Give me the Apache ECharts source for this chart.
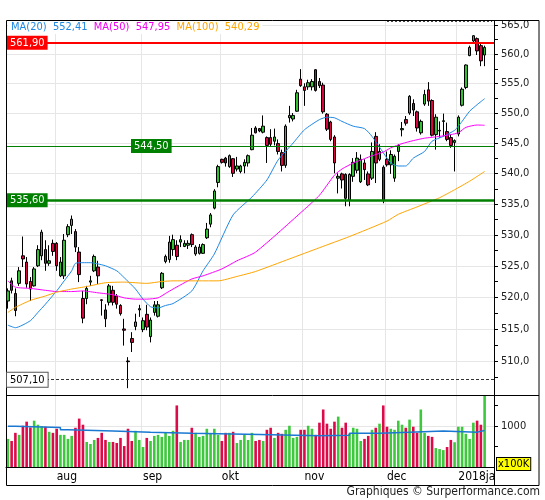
<!DOCTYPE html>
<html>
<head>
<meta charset="utf-8">
<title>Koersgrafiek</title>
<script src="https://cdn.jsdelivr.net/npm/echarts@6/dist/echarts.min.js"></script>
<style>
  html, body { margin: 0; padding: 0; background: #fff; }
  #chart { width: 545px; height: 500px; }
</style>
</head>
<body>
<div id="chart"></div>
<script>
// 每日开盘 / 收盘 / 最低 / 最高
const opens = [519.4,522.6,520.6,522.2,526.6,525.6,522.5,521.8,525.0,526.6,
  527.6,525.4,528.6,528.6,523.4,523.4,530.0,531.5,530.5,527.2,
  519.8,519.8,522.4,524.2,524.8,519.6,518.0,519.2,521.1,520.2,
  518.7,515.0,510.0,513.5,515.4,518.0,514.9,517.3,513.8,517.6,
  517.0,521.5,525.7,526.0,527.6,528.3,528.8,528.1,528.3,530.0,
  526.9,527.0,527.0,529.5,531.7,534.3,538.5,542.3,542.5,541.1,
  542.4,540.7,540.3,541.2,541.7,543.9,547.5,547.4,546.8,545.9,
  545.9,545.3,544.9,543.4,541.3,549.2,549.0,550.3,555.7,554.4,
  554.4,554.4,557.3,555.3,554.7,549.8,548.5,546.0,539.2,539.9,
  539.8,535.6,539.5,540.5,538.6,541.7,539.9,539.2,546.1,542.3,
  541.0,542.3,541.4,539.2,543.6,547.2,548.9,550.0,551.6,550.2,
  546.7,551.5,553.9,552.1,546.4,547.0,548.6,546.9,545.9,545.1,
  546.5,551.3,554.3,559.7,562.2,562.6,561.4,559.8];
const closes = [521.0,521.1,517.9,524.2,526.1,522.1,521.3,524.5,527.6,530.4,
  525.4,525.8,527.3,525.0,525.6,529.1,531.3,532.5,528.0,523.6,
  516.7,521.4,522.6,526.5,523.4,519.5,516.6,521.8,519.2,518.9,
  517.4,514.8,509.9,512.9,516.1,518.2,516.3,515.3,516.4,518.8,
  518.8,523.8,526.5,528.8,529.2,526.5,529.2,528.6,528.6,528.4,
  528.0,528.0,528.4,530.9,533.2,537.1,541.1,541.8,541.7,542.9,
  540.0,541.2,541.2,541.8,542.9,546.3,546.7,547.0,547.8,544.6,
  544.8,546.0,543.6,541.3,547.8,549.6,549.6,553.4,554.6,553.8,
  555.1,555.3,553.8,554.6,550.2,547.3,545.6,541.7,539.5,538.9,
  535.9,539.8,541.8,542.5,542.3,540.6,538.1,543.6,541.7,543.6,
  535.5,541.4,543.1,542.8,544.6,547.4,548.3,552.8,550.5,547.5,
  548.6,553.1,552.0,546.3,549.3,547.1,548.7,545.6,544.6,545.4,
  549.3,554.0,558.1,561.1,563.1,560.5,558.8,561.1];
const lows = [518.2,520.6,517.0,521.8,524.8,521.5,519.4,521.7,524.8,525.9,
  524.2,525.0,526.6,524.2,523.2,522.9,529.6,530.1,527.2,522.4,
  515.9,518.9,521.8,524.0,522.1,517.1,515.3,518.7,518.7,518.2,
  517.1,512.4,505.8,511.4,514.8,516.9,514.5,514.8,512.9,517.1,
  516.8,521.3,525.4,525.5,526.6,525.9,528.0,528.0,527.7,528.0,
  526.6,526.8,526.9,529.3,531.2,534.1,537.7,541.6,541.1,540.9,
  539.4,540.3,540.0,540.0,541.1,543.8,546.6,546.8,546.6,541.7,
  544.4,544.6,543.1,540.3,540.9,548.4,548.6,550.2,554.4,551.2,
  553.9,553.8,553.6,554.2,549.9,547.0,545.3,540.0,536.7,537.5,
  534.6,534.6,538.6,540.0,538.4,538.9,537.9,538.9,538.4,542.0,
  535.1,541.1,539.9,538.6,542.0,546.1,547.9,549.7,549.5,546.9,
  546.4,551.2,551.2,546.1,543.9,545.9,546.1,545.3,544.2,540.3,
  546.1,551.1,554.0,559.6,562.0,559.8,557.9,557.9];
const highs = [521.4,523.1,521.4,524.8,529.7,526.4,523.2,524.8,528.3,530.8,
  529.1,528.3,529.2,528.8,526.4,530.1,531.7,533.1,530.9,528.0,
  521.0,521.8,523.4,526.8,525.8,519.7,518.9,522.1,521.8,520.5,
  518.9,516.6,510.6,514.5,517.4,518.8,516.8,518.8,516.8,519.4,
  519.4,524.0,526.8,529.8,530.0,529.1,529.9,529.1,529.1,530.2,
  528.3,528.5,528.6,531.9,533.5,537.4,541.4,542.4,542.7,543.1,
  542.5,542.7,541.4,542.3,543.1,547.5,547.8,547.5,549.6,546.1,
  547.3,547.4,545.6,543.9,548.1,551.2,550.0,553.9,557.4,555.0,
  555.6,555.7,557.4,555.9,555.1,550.0,548.7,546.3,540.0,540.1,
  540.0,540.0,542.5,543.5,543.1,542.3,540.3,545.1,546.8,544.8,
  541.3,543.6,543.8,543.1,544.8,548.5,549.5,553.0,552.3,550.4,
  548.9,553.9,555.2,552.3,549.8,548.6,549.9,548.4,546.4,545.6,
  549.6,554.3,558.2,561.4,563.2,562.8,561.7,561.4];
// 成交量（单位 x100K）
const volumes = [681,631,828,779,1000,1099,959,1123,1025,992,
  976,853,828,927,779,779,681,754,951,1173,
  1025,607,558,656,705,828,656,607,607,582,
  705,508,927,631,877,656,484,705,631,754,
  779,730,828,754,877,1492,607,656,656,951,
  828,730,754,927,804,927,779,631,828,828,
  853,582,656,779,655,828,631,656,631,902,
  951,705,828,804,902,1000,705,730,902,902,
  1000,927,779,1074,1394,1050,927,1099,1222,951,
  1074,804,951,927,631,681,754,902,951,1050,
  1492,976,927,902,1123,1025,951,1148,976,828,
  1394,828,754,730,459,435,410,484,656,600,
  976,976,804,681,1074,1123,1025,1800];
// 均线读数 [交易日序号, 数值]
const ma20 = [[0,515.6],[2,515.2],[6,516.3],[8,517.6],[10,518.9],[13,521.0],[15,522.6],[17,524.2],[18,525.4],[20,525.5],
  [22,525.5],[24,525.3],[26,525.0],[29,524.2],[31,523.1],[34,521.3],[36,519.7],[38,518.5],[40,518.3],[42,518.7],
  [44,519.0],[49,521.0],[52,524.2],[55,526.9],[60,533.2],[65,536.1],[69,538.9],[72,542.2],[76,545.0],[79,547.2],
  [83,548.9],[85,549.3],[87,549.2],[89,548.6],[92,547.8],[95,547.4],[97,546.1],[100,543.4],[102,541.7],[104,541.2],
  [106,541.2],[108,542.5],[111,543.6],[113,545.3],[116,546.1],[119,547.1],[120,547.8],[121,548.6],[123,550.3],[125,551.4],
  [127,552.41]];
const ma50 = [[0,522.6],[2,521.6],[6,521.4],[10,521.1],[13,520.9],[17,520.9],[20,521.0],[24,520.7],[28,520.4],[31,519.9],
  [34,519.7],[37,519.7],[40,519.9],[42,520.6],[44,521.3],[49,522.9],[52,523.4],[57,524.5],[61,525.8],[66,527.2],
  [79,534.1],[83,536.4],[87,539.7],[89,540.7],[92,541.7],[95,542.4],[97,542.9],[100,543.5],[102,544.2],[105,544.9],
  [108,545.4],[111,545.8],[115,546.1],[118,546.4],[120,546.7],[122,547.6],[125,548.0],[127,547.95]];
const ma100 = [[0,517.6],[2,518.4],[6,519.5],[10,520.2],[13,520.8],[17,521.3],[21,521.7],[26,522.3],[31,522.4],[37,522.2],
  [41,522.5],[44,522.6],[56,522.6],[61,523.3],[66,524.1],[75,526.1],[83,527.9],[91,529.7],[101,532.2],[104,533.3],
  [109,534.5],[115,536.0],[119,537.3],[123,538.7],[127,540.29]];
const volAvg = [[0,990],[2,960],[14,900],[16,870],[28,845],[38,820],[49,790],[67,755],[83,770],[91,820],
  [99,845],[107,870],[116,845],[125,885],[127,885]];
// 水平参考线
const levels = [561.9, 544.5, 535.6, 507.1];
const topMark = 565.57;
// 刻度
const priceLabels = [510, 515, 520, 525, 530, 535, 540, 545, 550, 555, 560, 565];
const priceTicks = [507.5, 510, 512.5, 515, 517.5, 520, 522.5, 525, 527.5, 530, 532.5, 535, 537.5,
  540, 542.5, 545, 547.5, 550, 552.5, 555, 557.5, 560, 562.5, 565];
const volLabels = [1000];
const volTicks = [500, 1000, 1500];
const holidays = ['2017-12-25', '2017-12-26', '2018-01-01'];
const monthNames = ['jan', 'feb', 'mrt', 'apr', 'mei', 'jun', 'jul', 'aug', 'sep', 'okt', 'nov', 'dec'];

const FONT = '"DejaVu Sans Condensed", "DejaVu Sans", sans-serif';
const UP = '#30c030', DOWN = '#d8043f';
const VOL_UP = '#3ec83e', VOL_DOWN = '#dc0a48';

// 交易日
const dates = [];
const d = new Date(Date.UTC(2017, 6, 13));
while (dates.length < opens.length) {
  const wd = d.getUTCDay();
  const s = d.toISOString().slice(0, 10);
  if (wd !== 0 && wd !== 6 && holidays.indexOf(s) < 0) dates.push(s);
  d.setUTCDate(d.getUTCDate() + 1);
}
const cats = dates.concat(['pad1', 'pad2']);

function isMonthStart(i) {
  return i > 0 && i < dates.length && dates[i].slice(5, 7) !== dates[i - 1].slice(5, 7);
}
function monthLabel(value) {
  const m = parseInt(value.slice(5, 7), 10);
  return m === 1 ? value.slice(0, 4) + 'jan' : monthNames[m - 1];
}
const comma = (v, n) => v.toFixed(n).replace('.', ',');
const pairs = arr => arr.map(p => [cats[p[0]], p[1]]);
const last = arr => arr[arr.length - 1][1];

const chart = echarts.init(document.getElementById('chart'));

const splitX = {
  show: true,
  interval: (i) => isMonthStart(i),
  lineStyle: { color: '#e6e6e6', width: 1 }
};

const option = {
  animation: false,
  backgroundColor: '#fff',
  title: {
    left: 8, top: 21, padding: [1, 3],
    backgroundColor: '#fff',
    text: '{b|MA(20)  ' + comma(last(ma20), 2) + '}  {m|MA(50)  ' + comma(last(ma50), 2) +
      '}  {o|MA(100)  ' + comma(last(ma100), 2) + '}',
    textStyle: {
      fontFamily: FONT, fontSize: 11, fontWeight: 'normal',
      rich: {
        b: { color: '#1e88e5', fontFamily: FONT, fontSize: 11 },
        m: { color: '#f000f0', fontFamily: FONT, fontSize: 11 },
        o: { color: '#ffa500', fontFamily: FONT, fontSize: 11 }
      }
    }
  },
  grid: [
    { left: 6, top: 20, width: 488, height: 375 },
    { left: 6, top: 395, width: 488, height: 72 }
  ],
  xAxis: [
    {
      type: 'category', gridIndex: 0, data: cats, boundaryGap: true,
      axisLine: { show: false }, axisTick: { show: false }, axisLabel: { show: false },
      splitLine: splitX
    },
    {
      type: 'category', gridIndex: 1, data: cats, boundaryGap: true,
      axisLine: { show: true, lineStyle: { color: '#000', width: 1 } },
      axisTick: { show: false },
      axisLabel: {
        show: true, interval: (i) => isMonthStart(i),
        formatter: (value) => monthLabel(value),
        align: 'left', margin: 4, color: '#000', fontFamily: FONT, fontSize: 12,
        width: 40, overflow: 'truncate', ellipsis: ''
      },
      splitLine: splitX
    }
  ],
  yAxis: [
    {
      type: 'log', logBase: 10, gridIndex: 0, min: 504.75, max: 565.8, position: 'right',
      axisLine: { show: false }, axisTick: { show: false }, axisLabel: { show: false }, splitLine: { show: false }
    },
    {
      type: 'value', gridIndex: 1, min: 0, max: 1745, position: 'right',
      axisLine: { show: false }, axisTick: { show: false }, axisLabel: { show: false }, splitLine: { show: false }
    }
  ],
  series: [
    {
      name: 'koers', type: 'candlestick', xAxisIndex: 0, yAxisIndex: 0,
      barWidth: 3,
      data: opens.map((o, i) => [o, closes[i], lows[i], highs[i]]),
      itemStyle: { color: UP, color0: DOWN, borderColor: '#000', borderColor0: '#000', borderWidth: 1 },
      markLine: {
        silent: true, symbol: ['none', 'none'], label: { show: false }, animation: false,
        data: [
          { yAxis: levels[0], lineStyle: { color: '#ff0000', width: 2, type: 'solid' } },
          { yAxis: levels[1], lineStyle: { color: '#008000', width: 1, type: 'solid' } },
          { yAxis: levels[2], lineStyle: { color: '#008000', width: 2.5, type: 'solid' } },
          { yAxis: levels[3], lineStyle: { color: '#333', width: 1, type: [3, 2] } },
          [
            { coord: [cats[101], topMark], lineStyle: { color: '#444', width: 1, type: [2, 2] } },
            { coord: [cats[129], topMark] }
          ]
        ]
      }
    },
    {
      name: 'MA(20)', type: 'line', xAxisIndex: 0, yAxisIndex: 0, data: pairs(ma20),
      showSymbol: false, smooth: 0.2, lineStyle: { color: '#1e88e5', width: 1 }, z: 3
    },
    {
      name: 'MA(50)', type: 'line', xAxisIndex: 0, yAxisIndex: 0, data: pairs(ma50),
      showSymbol: false, smooth: 0.2, lineStyle: { color: '#ff00ff', width: 1 }, z: 3
    },
    {
      name: 'MA(100)', type: 'line', xAxisIndex: 0, yAxisIndex: 0, data: pairs(ma100),
      showSymbol: false, smooth: 0.2, lineStyle: { color: '#ffa500', width: 1 }, z: 3
    },
    {
      name: 'volume', type: 'bar', xAxisIndex: 1, yAxisIndex: 1, barWidth: 2.6,
      data: volumes.map((v, i) => ({
        value: v,
        itemStyle: { color: closes[i] >= opens[i] ? VOL_UP : VOL_DOWN }
      }))
    },
    {
      name: 'volume gem.', type: 'line', xAxisIndex: 1, yAxisIndex: 1, data: pairs(volAvg),
      step: 'end', showSymbol: false, lineStyle: { color: '#1a78d2', width: 1.5 }, z: 3
    }
  ]
};

chart.setOption(option);

// 坐标轴刻度、网格线、标注框
const crisp = v => Math.round(v) + 0.5;
const py = (axis, v) => chart.convertToPixel({ yAxisIndex: axis }, v);
const lineEl = (x1, y1, x2, y2, stroke, w, z) => ({
  type: 'line', silent: true, z: z,
  shape: { x1: x1, y1: y1, x2: x2, y2: y2 },
  style: { stroke: stroke, lineWidth: w }
});
const textEl = (x, y, text, style, z) => ({
  type: 'text', silent: true, z: z || 20, x: x, y: y,
  style: Object.assign({ text: text, font: '11px ' + FONT, fill: '#222', verticalAlign: 'middle' }, style)
});

const els = [];
priceLabels.forEach(v => {
  const y = crisp(py(0, v));
  els.push(lineEl(6, y, 494, y, '#e6e6e6', 1, 0));
  els.push(textEl(501, y, comma(v, 1)));
});
priceTicks.forEach(v => {
  const y = crisp(py(0, v));
  els.push(lineEl(494, y, 498, y, '#000', 1, 10));
});
volLabels.forEach(v => {
  const y = crisp(py(1, v));
  els.push(lineEl(6, y, 494, y, '#e6e6e6', 1, 0));
  els.push(textEl(501, y, String(v)));
});
volTicks.forEach(v => {
  const y = crisp(py(1, v));
  els.push(lineEl(494, y, 498, y, '#000', 1, 10));
});

// 边框
els.push({
  type: 'rect', silent: true, z: 20,
  shape: { x: 6.5, y: 20.5, width: 532.5, height: 465 },
  style: { fill: 'none', stroke: '#000', lineWidth: 1 }
});
els.push(lineEl(6, 395.5, 539, 395.5, '#000', 1, 20));
els.push(lineEl(494.5, 20, 494.5, 485, '#000', 1, 20));

// 参考线标签
const boxStyle = (bg, fg, extra) => Object.assign({
  fill: fg, backgroundColor: bg, padding: [2, 3, 1, 3]
}, extra || {});
els.push(textEl(7, py(0, levels[0]), comma(levels[0], 2), boxStyle('#ff0000', '#fff'), 30));
els.push(textEl(131, py(0, levels[1]), comma(levels[1], 2), boxStyle('#008000', '#fff'), 30));
els.push(textEl(7, py(0, levels[2]), comma(levels[2], 2), boxStyle('#008000', '#fff'), 30));
els.push(textEl(7, py(0, levels[3]), comma(levels[3], 2),
  boxStyle('#fff', '#000', { borderColor: '#555', borderWidth: 1 }), 30));

els.push(textEl(497, 458, 'x100K', {
  fill: '#000', backgroundColor: '#ffff00', borderColor: '#000', borderWidth: 1,
  padding: [1, 1, 0, 1], verticalAlign: 'top'
}, 30));
els.push(textEl(540, 492, 'Graphiques \u00a9 Surperformance.com', { align: 'right', font: '12px ' + FONT }, 30));

chart.setOption({ graphic: { elements: els } });

window.addEventListener('resize', function () {
  chart.resize();
});
</script>
</body>
</html>
